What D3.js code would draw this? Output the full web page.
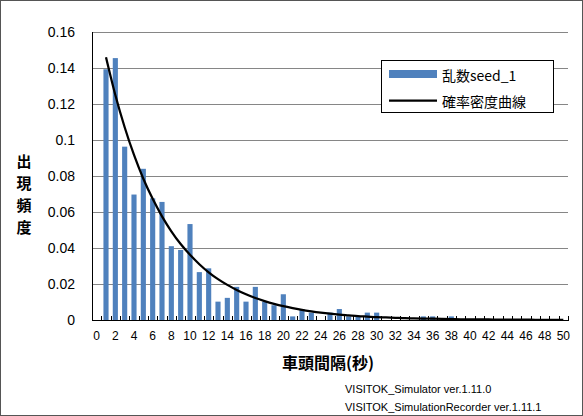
<!DOCTYPE html>
<html>
<head>
<meta charset="utf-8">
<script src="https://cdn.jsdelivr.net/npm/d3@7"></script>
<style>
  html, body { margin: 0; padding: 0; background: #fff; }
  svg { display: block; }
  text { font-family: "Liberation Sans", "Noto Sans CJK JP", sans-serif; fill: #000; }
  .jp { font-family: "Noto Sans CJK JP", "Liberation Sans", sans-serif; }
</style>
</head>
<body>
<svg id="chart" width="583" height="416"></svg>
<script>
// Headway categories (seconds)
const headways = d3.range(0, 51);
// Observed relative frequency per headway (random seed 1)
const freqSeed1 = [
  0, 0.1393, 0.1455, 0.0963, 0.0697, 0.0840, 0.0676, 0.0656, 0.0410, 0.0389,
  0.0533, 0.0266, 0.0287, 0.0102, 0.0123, 0.0184, 0.0102, 0.0184, 0.0102, 0.0082,
  0.0143, 0.0020, 0.0061, 0.0041, 0, 0.0041, 0.0061, 0.0020, 0.0020, 0.0041,
  0.0041, 0, 0, 0, 0, 0.0020, 0.0020, 0, 0.0020, 0,
  0, 0, 0, 0, 0, 0, 0, 0, 0, 0,
  0
];
// Probability density curve, headway 1..50
const densityHeadways = d3.range(1, 51);
const density = [
  0.1460, 0.1250, 0.1071, 0.0917, 0.0785, 0.0673, 0.0576, 0.0493, 0.0422, 0.0362,
  0.0310, 0.0265, 0.0227, 0.0195, 0.0167, 0.0143, 0.0122, 0.0105, 0.0090, 0.0077,
  0.0066, 0.0056, 0.0048, 0.0041, 0.0035, 0.0030, 0.0026, 0.0022, 0.0019, 0.0016,
  0.0014, 0.0012, 0.0010, 0.0009, 0.0008, 0.0007, 0.0006, 0.0005, 0.0004, 0.0004,
  0.0003, 0.0003, 0.0002, 0.0002, 0.0002, 0.0002, 0.0001, 0.0001, 0.0001, 0.0001
];
const yTicks = [0, 0.02, 0.04, 0.06, 0.08, 0.1, 0.12, 0.14, 0.16];
const yTickLabels = ["0", "0.02", "0.04", "0.06", "0.08", "0.1", "0.12", "0.14", "0.16"];
const xTickLabels = d3.range(0, 51, 2);
const seriesNames = ["乱数seed_1", "確率密度曲線"];
const xTitle = "車頭間隔(秒)";
const yTitle = "出現頻度";
const credits = ["VISITOK_Simulator ver.1.11.0", "VISITOK_SimulationRecorder ver.1.11.1"];

const W = 583, H = 416;
const plot = { left: 92, right: 568, top: 32, bottom: 320 };
const barColor = "#4F81BD";

const svg = d3.select("#chart");

// chart area frame
svg.append("rect")
  .attr("x", 0.5).attr("y", 0.5).attr("width", W - 1).attr("height", H - 1)
  .attr("fill", "#fff").attr("stroke", "#555");

const x = d3.scaleBand()
  .domain(headways)
  .range([plot.left, plot.right])
  .paddingInner(0.45)
  .paddingOuter(0.225);
const step = x.step();
const cx = d => x(d) + x.bandwidth() / 2;

const y = d3.scaleLinear().domain([0, 0.16]).range([plot.bottom, plot.top]);

// horizontal gridlines
svg.append("g")
  .selectAll("line")
  .data(yTicks.filter(t => t > 0))
  .join("line")
  .attr("x1", plot.left).attr("x2", plot.right)
  .attr("y1", d => Math.round(y(d)) + 0.5).attr("y2", d => Math.round(y(d)) + 0.5)
  .attr("stroke", "#868686").attr("stroke-width", 1);

// y axis labels
const yAxis = d3.axisLeft(y)
  .tickValues(yTicks)
  .tickSize(0)
  .tickPadding(17)
  .tickFormat((d, i) => yTickLabels[i]);
const gy = svg.append("g").attr("transform", `translate(${plot.left},0)`).call(yAxis);
gy.select(".domain").remove();
gy.selectAll("text").attr("font-size", 14).attr("font-family", "Liberation Sans, Noto Sans CJK JP, sans-serif");

// bars
svg.append("g")
  .selectAll("rect")
  .data(headways.map((h, i) => ({ h, v: freqSeed1[i] })).filter(d => d.v > 0))
  .join("rect")
  .attr("x", d => x(d.h))
  .attr("width", x.bandwidth())
  .attr("y", d => y(d.v))
  .attr("height", d => y(0) - y(d.v))
  .attr("fill", barColor);

// axis lines
svg.append("line")
  .attr("x1", plot.left + 0.5).attr("x2", plot.left + 0.5)
  .attr("y1", plot.top).attr("y2", plot.bottom + 0.5)
  .attr("stroke", "#000");

// x axis with category-boundary ticks
const boundaries = d3.range(0, headways.length + 1).map(i => plot.left + i * step);
svg.append("g")
  .selectAll("line")
  .data(boundaries)
  .join("line")
  .attr("x1", d => Math.round(d) + 0.5).attr("x2", d => Math.round(d) + 0.5)
  .attr("y1", plot.bottom - 4).attr("y2", plot.bottom)
  .attr("stroke", "#000");
svg.append("line")
  .attr("x1", plot.left).attr("x2", plot.right + 1)
  .attr("y1", plot.bottom + 0.5).attr("y2", plot.bottom + 0.5)
  .attr("stroke", "#000");

const xAxis = d3.axisBottom(x)
  .tickValues(xTickLabels)
  .tickSize(0)
  .tickPadding(11);
const gx = svg.append("g").attr("transform", `translate(0,${plot.bottom})`).call(xAxis);
gx.select(".domain").remove();
gx.selectAll("text").attr("font-size", 12).attr("font-family", "Liberation Sans, Noto Sans CJK JP, sans-serif");

// density curve
const line = d3.line()
  .x(d => cx(d.h))
  .y(d => y(d.v))
  .curve(d3.curveMonotoneX);
svg.append("path")
  .datum(densityHeadways.map((h, i) => ({ h, v: density[i] })))
  .attr("d", line)
  .attr("fill", "none")
  .attr("stroke", "#000")
  .attr("stroke-width", 2.25);

// axis titles
svg.append("text")
  .attr("class", "jp")
  .attr("x", (plot.left + plot.right) / 2 - 2)
  .attr("y", 362)
  .attr("text-anchor", "middle")
  .attr("dominant-baseline", "central")
  .attr("font-size", 16)
  .attr("font-weight", "bold")
  .text(xTitle);

svg.append("g")
  .selectAll("text")
  .data(Array.from(yTitle))
  .join("text")
  .attr("class", "jp")
  .attr("x", 24)
  .attr("y", (d, i) => 160 + i * 22)
  .attr("text-anchor", "middle")
  .attr("dominant-baseline", "central")
  .attr("font-size", 15)
  .attr("font-weight", "bold")
  .text(d => d);

// legend
const lg = svg.append("g");
lg.append("rect")
  .attr("x", 381.5).attr("y", 60.5).attr("width", 172).attr("height", 52)
  .attr("fill", "#fff").attr("stroke", "#000");
lg.append("rect")
  .attr("x", 389).attr("y", 70).attr("width", 48).attr("height", 8)
  .attr("fill", barColor);
lg.append("line")
  .attr("x1", 389).attr("x2", 437).attr("y1", 100.5).attr("y2", 100.5)
  .attr("stroke", "#000").attr("stroke-width", 2.25);
lg.selectAll("text")
  .data(seriesNames)
  .join("text")
  .attr("class", "jp")
  .attr("x", 442)
  .attr("y", (d, i) => 74.5 + i * 26)
  .attr("dominant-baseline", "central")
  .attr("font-size", 14)
  .text(d => d);

// credits
svg.append("g")
  .selectAll("text")
  .data(credits)
  .join("text")
  .attr("x", 345)
  .attr("y", (d, i) => 389 + i * 18)
  .attr("dominant-baseline", "central")
  .attr("font-size", 11)
  .attr("fill", "#222")
  .text(d => d);
</script>
</body>
</html>
